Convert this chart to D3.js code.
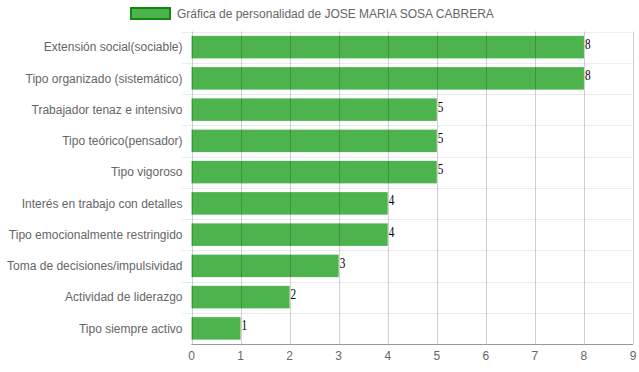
<!DOCTYPE html>
<html>
<head>
<meta charset="utf-8">
<script src="https://cdn.jsdelivr.net/npm/d3@7"></script>
<style>
  body { margin: 0; background: #fff; }
  svg { display: block; font-family: "Liberation Sans", Arial, Helvetica, sans-serif; }
</style>
</head>
<body>
<div id="chart"></div>
<script>
var seriesName = 'Gráfica de personalidad de JOSE MARIA SOSA CABRERA';
var categories = [
  'Extensión social(sociable)',
  'Tipo organizado (sistemático)',
  'Trabajador tenaz e intensivo',
  'Tipo teórico(pensador)',
  'Tipo vigoroso',
  'Interés en trabajo con detalles',
  'Tipo emocionalmente restringido',
  'Toma de decisiones/impulsividad',
  'Actividad de liderazgo',
  'Tipo siempre activo'
];
var values = [8, 8, 5, 5, 5, 4, 4, 3, 2, 1];
var xTicks = [0, 1, 2, 3, 4, 5, 6, 7, 8, 9];

var width = 639;
var height = 372;
var margin = { top: 31.5, right: 6, bottom: 28, left: 191.5 };

var svg = d3.select('#chart')
  .append('svg')
  .attr('width', width)
  .attr('height', height);

var x = d3.scaleLinear()
  .domain([0, 9])
  .range([margin.left, width - margin.right]);

var y = d3.scaleBand()
  .domain(categories)
  .range([margin.top, height - margin.bottom])
  .paddingInner(0.28)
  .paddingOuter(0.14);

var bandStep = y.step();

// horizontal grid (category boundaries), with tick marks to the left
var hLines = d3.range(categories.length + 1).map(function(i) {
  return margin.top + i * bandStep;
});
svg.append('g')
  .selectAll('line')
  .data(hLines.slice(0, -1))
  .enter()
  .append('line')
  .attr('x1', margin.left - 10)
  .attr('x2', width - margin.right)
  .attr('y1', function(d) { return Math.round(d) + 0.5; })
  .attr('y2', function(d) { return Math.round(d) + 0.5; })
  .attr('stroke', '#ececec')
  .attr('stroke-width', 1);

// bars
svg.append('g')
  .selectAll('rect')
  .data(values)
  .enter()
  .append('rect')
  .attr('x', x(0))
  .attr('y', function(d, i) { return y(categories[i]); })
  .attr('width', function(d) { return x(d) - x(0); })
  .attr('height', y.bandwidth())
  .attr('fill', '#4db34d');

// vertical grid drawn over bars
svg.append('g')
  .selectAll('line')
  .data(xTicks)
  .enter()
  .append('line')
  .attr('x1', function(d) { return Math.round(x(d)) + 0.5; })
  .attr('x2', function(d) { return Math.round(x(d)) + 0.5; })
  .attr('y1', margin.top)
  .attr('y2', height - margin.bottom)
  .attr('stroke', 'rgba(0,0,0,0.18)')
  .attr('stroke-width', 1);

// bottom axis line
svg.append('line')
  .attr('x1', margin.left)
  .attr('x2', width - margin.right)
  .attr('y1', height - margin.bottom + 0.5)
  .attr('y2', height - margin.bottom + 0.5)
  .attr('stroke', '#999')
  .attr('stroke-width', 1);

// x tick labels
svg.append('g')
  .selectAll('text')
  .data(xTicks)
  .enter()
  .append('text')
  .attr('x', function(d) { return x(d); })
  .attr('y', height - margin.bottom + 16)
  .attr('text-anchor', 'middle')
  .attr('font-size', 12)
  .attr('fill', '#666')
  .text(function(d) { return d; });

// category labels
svg.append('g')
  .selectAll('text')
  .data(categories)
  .enter()
  .append('text')
  .attr('x', margin.left - 9)
  .attr('y', function(d) { return y(d) + y.bandwidth() / 2; })
  .attr('dy', '0.35em')
  .attr('text-anchor', 'end')
  .attr('font-size', 12)
  .attr('fill', '#666')
  .text(function(d) { return d; });

// value labels (narrow serif digits)
svg.append('g')
  .selectAll('text')
  .data(values)
  .enter()
  .append('text')
  .attr('transform', function(d, i) {
    return 'translate(' + (x(d) + 1) + ',' + (y(categories[i]) + y.bandwidth() / 2 + 2) + ') scale(0.8,1)';
  })
  .attr('font-family', '"Liberation Serif", "Times New Roman", serif')
  .attr('font-size', 14)
  .attr('fill', '#000')
  .text(function(d) { return d; });

// legend
var legend = svg.append('g');
legend.append('rect')
  .attr('x', 131)
  .attr('y', 8)
  .attr('width', 39)
  .attr('height', 11)
  .attr('fill', '#4db34d')
  .attr('stroke', '#0f8a0f')
  .attr('stroke-width', 2);
legend.append('text')
  .attr('x', 177)
  .attr('y', 14)
  .attr('dy', '0.35em')
  .attr('font-size', 12)
  .attr('fill', '#666')
  .text(seriesName);
</script>
</body>
</html>
